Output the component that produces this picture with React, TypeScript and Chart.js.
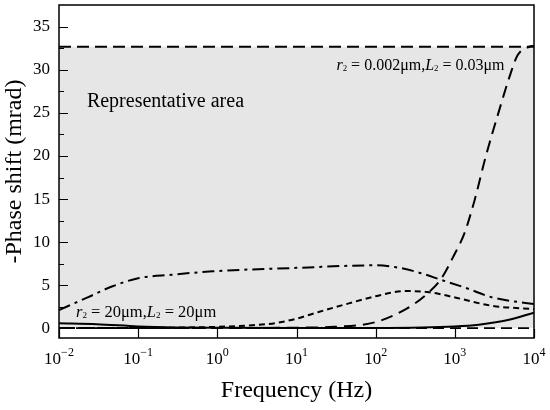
import { useEffect, useRef } from "react";
import { Chart, registerables } from "chart.js";

Chart.register(...registerables);

const SERIF = "'Liberation Serif', 'Times New Roman', serif";

// frequency (Hz) vs -phase shift (mrad)
const solidFreq = [0.01, 0.03, 0.1, 0.3, 1, 10, 100, 1000, 2000, 5000, 10000];
const solidPhase = [0.55, 0.45, 0.2, 0.08, 0.03, 0.0, 0.02, 0.2, 0.4, 1.0, 1.8];

const shortDashFreq = [0.01, 0.1, 1, 3, 5.6, 10, 19.5, 47, 100, 230, 450, 1070, 2900, 10000];
const shortDashPhase = [0.0, 0.02, 0.15, 0.35, 0.6, 1.1, 1.9, 2.9, 3.7, 4.3, 4.2, 3.5, 2.6, 2.2];

const dashDotFreq = [0.01, 0.0234, 0.0457, 0.1, 0.263, 0.87, 10, 100, 174, 339, 676, 1445, 2884, 5623, 10000];
const dashDotPhase = [2.1, 3.6, 4.8, 5.8, 6.2, 6.6, 7.0, 7.3, 7.1, 6.5, 5.6, 4.6, 3.6, 3.1, 2.8];

const longDashFreq = [0.01, 0.1, 1, 10, 30, 100, 250, 450, 680, 980, 1320, 1780, 2450, 3630, 4900, 6200, 8700, 10000];
const longDashPhase = [0, 0, 0, 0.05, 0.15, 0.7, 2.3, 4.0, 5.8, 8.5, 11, 14.9, 19.9, 25.3, 29.2, 31.7, 32.7, 32.8];

// representative area bounds
const areaFreq = [0.01, 10000];
const areaTop = [32.7, 32.7];
const areaBottom = [0, 0];

const xTicks = [0.01, 0.1, 1, 10, 100, 1000, 10000];
const xTickExponents = ["\u22122", "\u22121", "0", "1", "2", "3", "4"];
const yTicks = [0, 5, 10, 15, 20, 25, 30, 35];
const yMinorTicks = [2.5, 7.5, 12.5, 17.5, 22.5, 27.5, 32.5];

type Seg = { t: string; italic?: boolean; sub?: boolean };

const lowLabel: Seg[] = [
  { t: "r", italic: true }, { t: "2", sub: true }, { t: " = 20\u03bcm," },
  { t: "L", italic: true }, { t: "2", sub: true }, { t: " = 20\u03bcm" },
];
const highLabel: Seg[] = [
  { t: "r", italic: true }, { t: "2", sub: true }, { t: " = 0.002\u03bcm," },
  { t: "L", italic: true }, { t: "2", sub: true }, { t: " = 0.03\u03bcm" },
];

const pts = (xs: number[], ys: number[]) => xs.map((x, i) => ({ x, y: ys[i] }));

function drawSegs(ctx: CanvasRenderingContext2D, segs: Seg[], x: number, y: number, size: number) {
  let cx = x;
  segs.forEach((s) => {
    const fs = s.sub ? size * 0.55 : size;
    ctx.font = `${s.italic ? "italic " : ""}${fs}px ${SERIF}`;
    ctx.fillText(s.t, cx, s.sub ? y + size * 0.05 : y);
    cx += ctx.measureText(s.t).width;
  });
}

const decorations = {
  id: "decorations",
  afterDatasetsDraw(chart: any) {
    const { ctx, chartArea: a, scales } = chart;
    const xs = scales.x;
    const ys = scales.y;
    ctx.save();
    ctx.strokeStyle = "#000";
    ctx.fillStyle = "#000";
    ctx.lineWidth = 1.2;
    ctx.beginPath();
    xTicks.forEach((v) => {
      const px = Math.round(xs.getPixelForValue(v)) + 0.5;
      ctx.moveTo(px, a.bottom);
      ctx.lineTo(px, a.bottom - 9);
    });
    yTicks.forEach((v) => {
      const py = Math.round(ys.getPixelForValue(v)) + 0.5;
      ctx.moveTo(a.left, py);
      ctx.lineTo(a.left + 9, py);
    });
    yMinorTicks.forEach((v) => {
      const py = Math.round(ys.getPixelForValue(v)) + 0.5;
      ctx.moveTo(a.left, py);
      ctx.lineTo(a.left + 5, py);
    });
    ctx.stroke();
    ctx.lineWidth = 1.5;
    ctx.strokeRect(a.left, a.top, a.right - a.left, a.bottom - a.top);

    // x tick labels as 10 with a raised exponent
    ctx.textBaseline = "alphabetic";
    ctx.textAlign = "left";
    xTicks.forEach((v, i) => {
      ctx.font = `17px ${SERIF}`;
      const wb = ctx.measureText("10").width;
      ctx.font = `12px ${SERIF}`;
      const we = ctx.measureText(xTickExponents[i]).width;
      const left = xs.getPixelForValue(v) - (wb + we) / 2;
      ctx.font = `17px ${SERIF}`;
      ctx.fillText("10", left, a.bottom + 26);
      ctx.font = `12px ${SERIF}`;
      ctx.fillText(xTickExponents[i], left + wb, a.bottom + 18);
    });

    // annotations
    ctx.font = `20px ${SERIF}`;
    ctx.fillText("Representative area", xs.getPixelForValue(0.0225), ys.getPixelForValue(25.7));
    drawSegs(ctx, lowLabel, xs.getPixelForValue(0.0164), ys.getPixelForValue(1.28), 16.5);
    drawSegs(ctx, highLabel, xs.getPixelForValue(32), ys.getPixelForValue(30.0), 16);
    ctx.restore();
  },
};

export default function App() {
  const canvasRef = useRef<HTMLCanvasElement | null>(null);

  useEffect(() => {
    if (!canvasRef.current) return;
    const line = { borderColor: "#000", borderWidth: 2, pointRadius: 0, fill: false, cubicInterpolationMode: "monotone" as const };
    const chart = new Chart(canvasRef.current, {
      type: "line",
      data: {
        datasets: [
          { ...line, label: "solid", data: pts(solidFreq, solidPhase) },
          { ...line, label: "short dash", data: pts(shortDashFreq, shortDashPhase), borderDash: [6, 4] },
          { ...line, label: "dash dot", data: pts(dashDotFreq, dashDotPhase), borderDash: [12, 5, 3, 5] },
          { ...line, label: "long dash", data: pts(longDashFreq, longDashPhase), borderDash: [12, 7] },
          { ...line, label: "area bottom", data: pts(areaFreq, areaBottom), borderDash: [11, 6], borderWidth: 1.7 },
          {
            ...line,
            label: "representative area",
            data: pts(areaFreq, areaTop),
            borderDash: [12, 6],
            borderWidth: 1.8,
            fill: { value: 0 },
            backgroundColor: "#e6e6e6",
          },
        ],
      },
      options: {
        responsive: false,
        animation: false,
        layout: { padding: { left: 0, right: 16, top: 5, bottom: 0 } },
        plugins: { legend: { display: false }, tooltip: { enabled: false } },
        scales: {
          x: {
            type: "logarithmic",
            min: 0.01,
            max: 10000,
            grid: { display: false, drawTicks: false },
            border: { display: false },
            ticks: { display: false },
            afterBuildTicks: (s: any) => {
              s.ticks = xTicks.map((value) => ({ value }));
            },
            afterFit: (s: any) => {
              s.height = 72;
              s.paddingLeft = 0;
              s.paddingRight = 0;
            },
            title: {
              display: true,
              text: "Frequency (Hz)",
              color: "#000",
              font: { family: SERIF, size: 24 },
              padding: { top: 0, bottom: 5 },
            },
          },
          y: {
            min: -1.15,
            max: 37.55,
            grid: { display: false, drawTicks: false },
            border: { display: false },
            afterBuildTicks: (s: any) => {
              s.ticks = yTicks.map((value) => ({ value }));
            },
            ticks: { color: "#000", font: { family: SERIF, size: 17 }, padding: 9 },
            afterFit: (s: any) => {
              s.width = 59;
              s.paddingTop = 0;
              s.paddingBottom = 0;
            },
            title: {
              display: true,
              text: "-Phase shift (mrad)",
              color: "#000",
              font: { family: SERIF, size: 24 },
              padding: { top: 0, bottom: 0 },
            },
          },
        },
      },
      plugins: [decorations],
    });
    return () => chart.destroy();
  }, []);

  return (
    <div style={{ position: "absolute", left: 0, top: 0, width: 550, height: 410, background: "#fff" }}>
      <canvas ref={canvasRef} width={550} height={410} style={{ display: "block" }} />
    </div>
  );
}
